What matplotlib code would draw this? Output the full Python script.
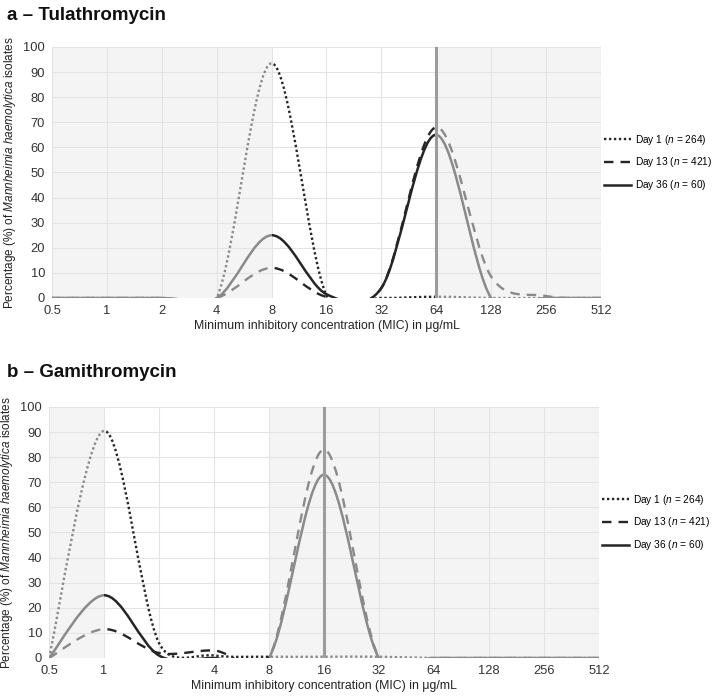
import numpy as np
import matplotlib
matplotlib.use("Agg")
import matplotlib.pyplot as plt
from matplotlib.path import Path
from matplotlib.patches import PathPatch, Rectangle
from matplotlib.lines import Line2D

# MIC categories (µg/mL) and % of isolates per sampling day
mic = ["0.5", "1", "2", "4", "8", "16", "32", "64", "128", "256", "512"]

tula_day1 = [0, 0, 0, 0, 93.5, 1, 0, 0.5, 0, 0, 0]
tula_day13 = [0, 0, 0, 0, 12, 0.5, 4, 68, 8.5, 0.8, 0]
tula_day36 = [0, 0, 0, 0, 25, 1.5, 4, 65, 0, 0, 0]

gami_day1 = [0, 90.5, 6, 1, 0.5, 0.5, 0.5, 0, 0, 0, 0]
gami_day13 = [0, 11.5, 2, 3, 0, 83, 0, 0, 0, 0, 0]
gami_day36 = [0, 25, 1, 0, 0, 73, 0, 0, 0, 0, 0]

days = ["Day 1 ($\\mathit{n}$ = 264)", "Day 13 ($\\mathit{n}$ = 421)",
        "Day 36 ($\\mathit{n}$ = 60)"]

DARK, GREY, SHADE, GRID, BREAK = "#252525", "#8a8a8a", "#f4f4f4", "#e3e3e3", "#9c9c9c"
STYLES = [dict(ls=(0, (1, 1.1)), lw=1.7), dict(ls=(0, (4, 3)), lw=1.7), dict(ls="-", lw=1.8)]
TICKFONT = ["Liberation Sans Narrow", "Liberation Sans", "DejaVu Sans"]
SX, SY = 55.0, 2.51   # px per category / per percent, used to limit the curve arms

plt.rcParams.update({"font.family": ["Liberation Sans", "DejaVu Sans"],
                     "mathtext.fontset": "custom",
                     "mathtext.rm": "Liberation Sans",
                     "mathtext.it": "Liberation Sans:italic"})


def smooth_path(y):
    # Excel-style smoothed line: Catmull-Rom arms, capped at half the segment length
    y = np.asarray(y, float)
    pts = np.column_stack([np.arange(len(y)), y])
    ext = np.vstack([pts[:1], pts, pts[-1:]])
    sc = np.array([SX, SY])
    verts, codes = [tuple(pts[0])], [Path.MOVETO]
    for i in range(len(y) - 1):
        p0, p1, p2, p3 = ext[i], ext[i + 1], ext[i + 2], ext[i + 3]
        half = np.hypot(*((p2 - p1) * sc)) / 2
        a1, a2 = (p2 - p0) / 6, (p3 - p1) / 6
        l1, l2 = np.hypot(*(a1 * sc)), np.hypot(*(a2 * sc))
        if l1 > half:
            a1 = a1 * half / l1
        if l2 > half:
            a2 = a2 * half / l2
        verts += [tuple(p1 + a1), tuple(p2 - a2), tuple(p2)]
        codes += [Path.CURVE4] * 3
    return Path(verts, codes)


def panel(ax, series, shaded, dark_span, breakpoint):
    n = len(mic)
    for x0, x1 in shaded:
        ax.axvspan(x0, x1, color=SHADE, lw=0, zorder=0)
    regions = [(0, dark_span[0], GREY), (dark_span[0], dark_span[1], DARK), (dark_span[1], n - 1, GREY)]
    for y, st in zip(series, STYLES):
        path = smooth_path(y)
        for x0, x1, col in regions:
            if x1 <= x0:
                continue
            p = PathPatch(path, fill=False, ec=col, lw=st["lw"], ls=st["ls"], capstyle="butt", zorder=3)
            ax.add_patch(p)
            p.set_clip_path(Rectangle((x0, 0), x1 - x0, 100, transform=ax.transData))
    ax.axvline(breakpoint, color=BREAK, lw=2.2, zorder=4)
    ax.set_xlim(0, n - 1); ax.set_ylim(0, 100)
    ax.set_xticks(range(n)); ax.set_xticklabels(mic)
    ax.set_yticks(range(0, 101, 10))
    for lab in ax.get_xticklabels() + ax.get_yticklabels():
        lab.set_family(TICKFONT)
    ax.tick_params(length=0, labelsize=9.3, colors="#333333")
    ax.tick_params(axis="x", pad=5)
    ax.tick_params(axis="y", pad=5)
    ax.set_axisbelow(True)
    ax.grid(True, color=GRID, lw=0.8)
    for s in ax.spines.values():
        s.set_visible(False)
    ax.set_xlabel("Minimum inhibitory concentration (MIC) in μg/mL", fontsize=8.8, color="#222222", labelpad=2)
    ax.set_ylabel("Percentage (%) of $\\mathit{Mannheimia\\ haemolytica}$ isolates", fontsize=8.5, color="#222222")
    ax.yaxis.set_label_coords(-0.061, 0.5)
    handles = [Line2D([], [], color=DARK, lw=st["lw"], ls=st["ls"]) for st in STYLES]
    ax.legend(handles, days, loc="center left", bbox_to_anchor=(1.006, 0.54), frameon=False,
              fontsize=7.3, handlelength=2.6, handletextpad=0.4, labelspacing=0.85,
              borderpad=0, borderaxespad=0)


fig = plt.figure(figsize=(7.17, 7.0), dpi=100)
ax_a = fig.add_axes([0.0725, 0.5743, 0.7657, 0.3586])
ax_b = fig.add_axes([0.0683, 0.0600, 0.7670, 0.3586])

panel(ax_a, [tula_day1, tula_day13, tula_day36], shaded=[(0, 4), (7, 10)], dark_span=(4, 7), breakpoint=7)
panel(ax_b, [gami_day1, gami_day13, gami_day36], shaded=[(0, 1), (4, 10)], dark_span=(1, 4), breakpoint=5)

fig.text(7 / 717, 1 - 15 / 700, "a – Tulathromycin", fontsize=13.5, fontweight="bold", va="center", color="#111111")
fig.text(7 / 717, 1 - 372 / 700, "b – Gamithromycin", fontsize=13.5, fontweight="bold", va="center", color="#111111")

fig.savefig("out.png", dpi=100)
